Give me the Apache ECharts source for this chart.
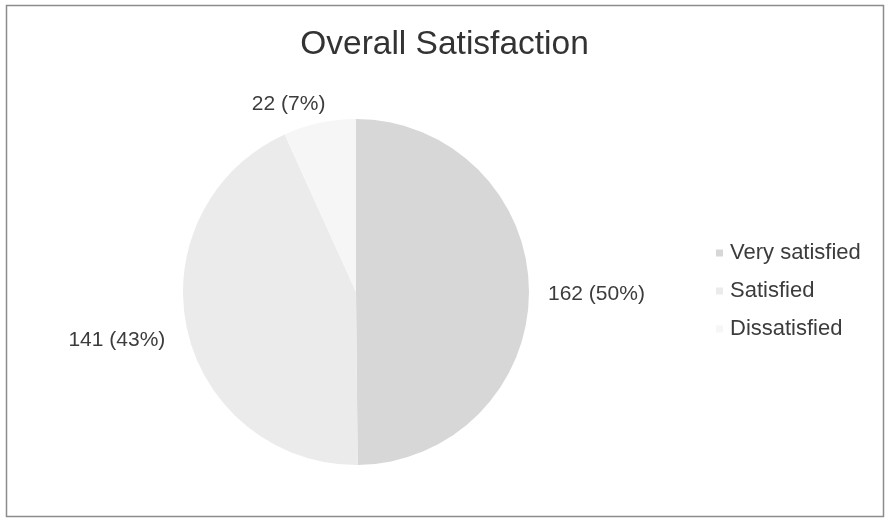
<!DOCTYPE html>
<html>
<head>
<meta charset="utf-8">
<style>
  html, body { margin: 0; padding: 0; background: #ffffff; }
  #chart { width: 889px; height: 522px; }
</style>
<script src="https://cdn.jsdelivr.net/npm/echarts@6/dist/echarts.min.js"></script>
</head>
<body>
<div id="chart"></div>
<script>
// Survey answers for overall satisfaction
const categories = ['Very satisfied', 'Satisfied', 'Dissatisfied'];
const counts = [162, 141, 22];
const sliceColors = ['#d7d7d7', '#ebebeb', '#f6f6f6'];

// Small nudges for the outside labels (pixels)
const labelShift = [[-5, 3], [2, 9], [22, -9]];

const total = counts.reduce((a, b) => a + b, 0);
const pieData = categories.map((name, i) => ({
  name: name,
  value: counts[i],
  itemStyle: { color: sliceColors[i] }
}));

const chart = echarts.init(document.getElementById('chart'), null, { renderer: 'canvas' });
chart.setOption({
  backgroundColor: '#ffffff',
  animation: false,
  textStyle: { fontFamily: 'Liberation Sans, Arial, sans-serif' },
  title: {
    text: 'Overall Satisfaction',
    left: 'center',
    top: 23,
    textStyle: { fontSize: 33.5, fontWeight: 'normal', color: '#333333', fontFamily: 'Liberation Sans, Arial, sans-serif' }
  },
  legend: {
    orient: 'vertical',
    left: 711,
    top: 237,
    icon: 'rect',
    itemWidth: 7,
    itemHeight: 7,
    itemGap: 16,
    textStyle: { fontSize: 22, color: '#3c3c3c', lineHeight: 22, padding: [0, 0, 0, 2] },
    data: categories
  },
  graphic: [{
    type: 'rect',
    shape: { x: 6.5, y: 5.5, width: 877, height: 511 },
    style: { fill: 'none', stroke: '#8c8c8c', lineWidth: 1.5 },
    silent: true
  }],
  series: [{
    type: 'pie',
    center: [356, 292],
    radius: [0, 173],
    startAngle: 90,
    clockwise: true,
    avoidLabelOverlap: false,
    data: pieData,
    label: {
      show: true,
      position: 'outside',
      fontSize: 21,
      color: '#3c3c3c',
      formatter: p => p.value + ' (' + Math.round(p.value / total * 100) + '%)'
    },
    labelLine: { show: false, length: 10, length2: 9 },
    labelLayout: p => ({ dx: labelShift[p.dataIndex][0], dy: labelShift[p.dataIndex][1] }),
    emphasis: { disabled: true }
  }]
});
</script>
</body>
</html>
